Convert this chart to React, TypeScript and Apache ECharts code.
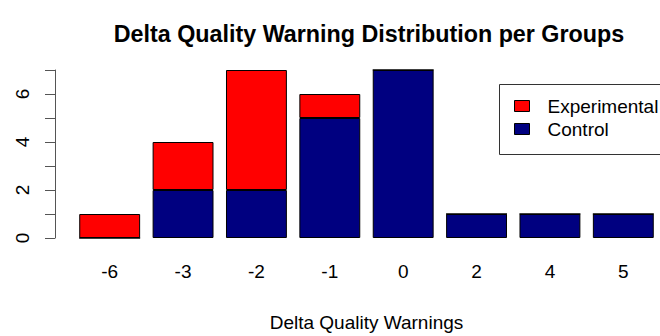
import React, { useEffect, useRef } from "react";
import * as echarts from "echarts";

const categories = ["-6", "-3", "-2", "-1", "0", "2", "4", "5"];
const control = [0, 2, 2, 5, 7, 1, 1, 1];
const experimental = [1, 2, 5, 1, 0, 0, 0, 0];
const yTicks = [0, 2, 4, 6];

export default function App() {
  const ref = useRef<HTMLDivElement>(null);
  useEffect(() => {
    if (!ref.current) return;
    const chart = echarts.init(ref.current, null, { renderer: "svg" });
    const font = "Liberation Sans, Arial, Helvetica, sans-serif";
    chart.setOption({
      animation: false,
      backgroundColor: "#ffffff",
      title: {
        text: "Delta Quality Warning Distribution per Groups",
        left: 364,
        top: 17,
        textAlign: "center",
        textStyle: { fontFamily: font, fontWeight: "bold", fontSize: 23.3, color: "#000" },
      },
      grid: { left: 73, right: -3, top: 70, bottom: 98, containLabel: false },
      xAxis: {
        type: "category",
        data: categories,
        axisLine: { show: false },
        axisTick: { show: false },
        axisLabel: { fontFamily: font, fontSize: 19, color: "#000", margin: 24 },
        name: "Delta Quality Warnings",
        nameLocation: "middle",
        nameGap: 75,
        nameTextStyle: { fontFamily: font, fontSize: 19, color: "#000" },
      },
      yAxis: {
        type: "value",
        min: 0,
        max: 7,
        interval: 1,
        offset: 18,
        splitLine: { show: false },
        axisLine: { show: true, lineStyle: { color: "#555", width: 1 } },
        axisTick: { show: true, length: 10, lineStyle: { color: "#555" } },
        axisLabel: {
          fontFamily: font,
          fontSize: 19,
          color: "#000",
          rotate: 90,
          margin: 23,
          formatter: (v: number) => (yTicks.includes(v) ? String(v) : ""),
        },
      },
      legend: {
        data: ["Experimental", "Control"],
        orient: "vertical",
        left: 514,
        top: 96,
        padding: 0,
        itemWidth: 15,
        itemHeight: 11,
        itemGap: 3,
        icon: "rect",
        itemStyle: { borderColor: "#000", borderWidth: 1 },
        textStyle: { fontFamily: font, fontSize: 19, lineHeight: 20, color: "#000", padding: [0, 0, 0, 13] },
      },
      graphic: [
        {
          type: "rect",
          left: 497,
          top: 82,
          shape: { width: 175, height: 70 },
          style: { fill: "none", stroke: "#333", lineWidth: 1 },
        },
      ],
      series: [
        {
          name: "Control",
          type: "bar",
          stack: "s",
          data: control,
          barCategoryGap: "17%",
          itemStyle: { color: "#000080", borderColor: "#000", borderWidth: 1 },
        },
        {
          name: "Experimental",
          type: "bar",
          stack: "s",
          data: experimental,
          barCategoryGap: "17%",
          itemStyle: { color: "#ff0000", borderColor: "#000", borderWidth: 1 },
        },
      ],
    });
    return () => chart.dispose();
  }, []);
  return <div ref={ref} style={{ width: 660, height: 336, position: "absolute", left: 0, top: 0 }} />;
}
